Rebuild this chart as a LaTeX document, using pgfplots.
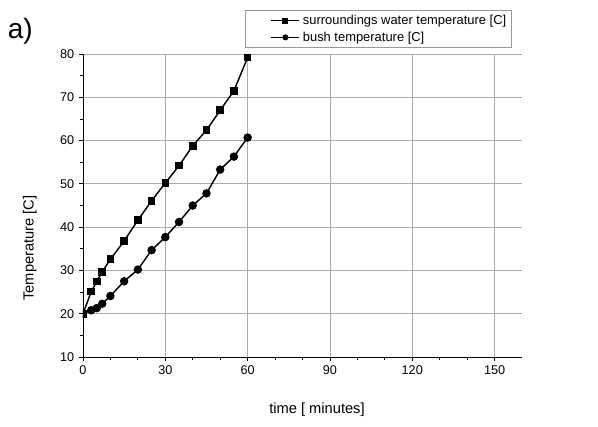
\documentclass[border=0pt]{standalone}
\usepackage{pgfplots}
\pgfplotsset{compat=1.18}
\usepackage{fontspec}
\setmainfont{Liberation Sans}
\begin{document}
\begin{tikzpicture}
\path[use as bounding box] (-62.25pt,-51.75pt) rectangle (386.25pt,267.75pt);
\begin{axis}[
  scale only axis,
  width=329.25pt, height=227.25pt,
  xmin=0, xmax=160, ymin=10, ymax=80,
  xtick={0,30,60,90,120,150},
  ytick={10,20,30,40,50,60,70,80},
  minor x tick num=2,
  minor y tick num=1,
  axis x line*=bottom, axis y line*=left,
  axis line style={black, line width=0.7pt, -},
  tick align=outside,
  major tick length=3pt, minor tick length=2pt,
  tick style={black, line width=0.6pt},
  grid=major,
  major grid style={gray!65, line width=0.6pt},
  /pgf/number format/assume math mode=true,
  ticklabel style={font=\fontsize{9.5}{11}\selectfont},
  xlabel={time [ minutes]},
  ylabel={Temperature [C]},
  label style={font=\fontsize{11}{13}\selectfont},
  xlabel style={at={(axis description cs:0.533,-0.175)}, anchor=center},
  ylabel style={at={(axis description cs:-0.121,0.36)}, anchor=center},
  legend style={at={(axis description cs:0.977,1.02)}, anchor=south east,
    draw=gray!80, font=\fontsize{9.7}{12}\selectfont,
    inner xsep=2pt, inner ysep=1.5pt, row sep=0pt},
  legend cell align=left,
  legend image code/.code={
    \path (-0.6cm,0cm);
    \draw[#1, line width=1.1pt, mark size=1.7pt, mark repeat=2, mark phase=2] plot coordinates {(0cm,0cm) (0.37cm,0cm) (0.74cm,0cm)};
  },
  clip=true,
  clip marker paths=true,
]
\addplot[black, line width=1.1pt, mark=square*, mark size=2.3pt, mark options={solid}] coordinates {
(0,20) (3,25.1) (5,27.4) (7,29.7) (10,32.6) (15,36.8) (20,41.6) (25,46.1) (30,50.2) (35,54.2) (40,58.8) (45,62.4) (50,67.0) (55,71.5) (60,79.2)
};
\addlegendentry{surroundings water temperature [C]}
\addplot[black, line width=1.1pt, mark=*, mark size=2.6pt, mark options={solid}] coordinates {
(0,20) (3,20.8) (5,21.3) (7,22.3) (10,24.1) (15,27.5) (20,30.2) (25,34.7) (30,37.7) (35,41.2) (40,45.0) (45,47.8) (50,53.3) (55,56.3) (60,60.7)
};
\addlegendentry{bush temperature [C]}
\end{axis}
\node[font=\fontsize{21}{24}\selectfont] at (-47pt,244pt) {a)};
\end{tikzpicture}
\end{document}
